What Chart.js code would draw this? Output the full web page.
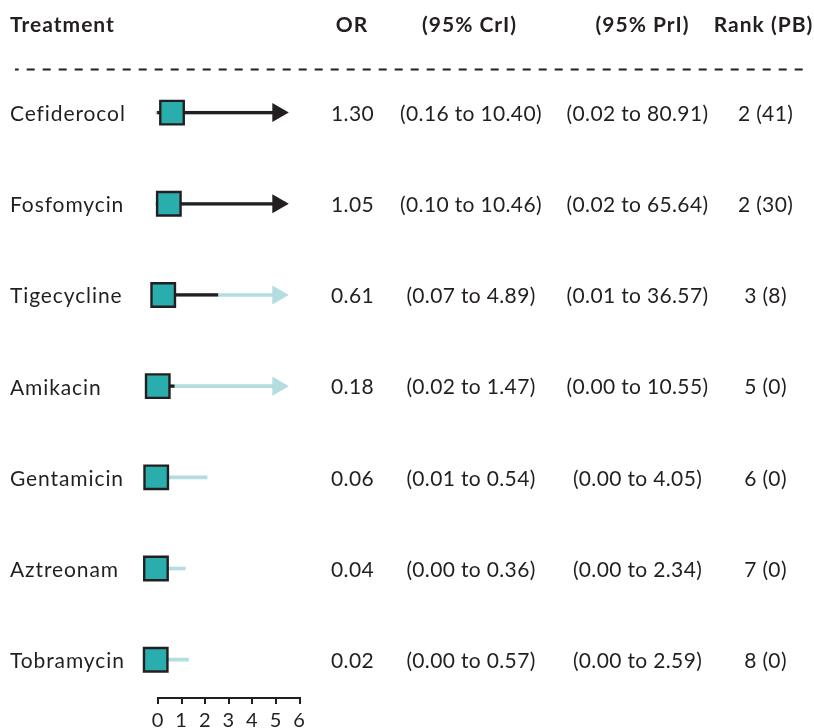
<!DOCTYPE html>
<html>
<head>
<meta charset="utf-8">
<script src="https://cdn.jsdelivr.net/npm/chart.js@4/dist/chart.umd.min.js"></script>
<style>
  html, body { margin: 0; padding: 0; background: #ffffff; }
  #wrap { position: relative; width: 814px; height: 728px; }
</style>
</head>
<body>
<div id="wrap"><canvas id="c" width="814" height="728"></canvas></div>
<script>
// ---- data ----
const treatments = ['Cefiderocol', 'Fosfomycin', 'Tigecycline', 'Amikacin', 'Gentamicin', 'Aztreonam', 'Tobramycin'];
const oddsRatio = [1.30, 1.05, 0.61, 0.18, 0.06, 0.04, 0.02];
const criLow  = [0.16, 0.10, 0.07, 0.02, 0.01, 0.00, 0.00];
const criHigh = [10.40, 10.46, 4.89, 1.47, 0.54, 0.36, 0.57];
const priLow  = [0.02, 0.02, 0.01, 0.00, 0.00, 0.00, 0.00];
const priHigh = [80.91, 65.64, 36.57, 10.55, 4.05, 2.34, 2.59];
const rankVal = [2, 2, 3, 5, 6, 7, 8];
const rankPB  = [41, 30, 8, 0, 0, 0, 0];
const axisTickLabels = ['0', '1', '2', '3', '4', '5', '6'];
const headers = ['Treatment', 'OR', '(95% CrI)', '(95% PrI)', 'Rank (PB)'];

// ---- styling / layout ----
const ARROW_AT = 9.6;           // intervals beyond this are truncated with an arrow
const X_MIN = 0.2, X_MAX = 11.3;
const LABEL_NUDGE = 0.018;      // small downward nudge of row labels (in row units)
const DARK = '#231F20';
const LIGHT = '#B3DDE0';
const TEAL = '#2AAEAD';
const FONT = 'Lato, "Open Sans", sans-serif';

const rowIdx = treatments.map((_, i) => i);
const priBars = rowIdx.map(i => ({ y: i, x: [priLow[i], Math.min(priHigh[i], ARROW_AT)] }));
const criBars = rowIdx.map(i => ({ y: i, x: [criLow[i], Math.min(criHigh[i], ARROW_AT)] }));
const darkArrows = rowIdx.filter(i => criHigh[i] > ARROW_AT).map(i => ({ x: ARROW_AT, y: i }));
const lightArrows = rowIdx.filter(i => criHigh[i] <= ARROW_AT && priHigh[i] > ARROW_AT).map(i => ({ x: ARROW_AT, y: i }));
const orPoints = rowIdx.map(i => ({ x: oddsRatio[i], y: i }));

const columnsPlugin = {
  id: 'columns',
  beforeDraw(chart) {
    chart.ctx.letterSpacing = '0.9px';
  },
  afterDraw(chart) {
    const ctx = chart.ctx;
    const ys = chart.scales.y;
    ctx.save();
    // headers
    ctx.fillStyle = DARK;
    ctx.textBaseline = 'middle';
    ctx.font = 'bold 21px ' + FONT;
    ctx.letterSpacing = '1px';
    const hy = 25;
    ctx.textAlign = 'left';
    ctx.fillText(headers[0], 10, hy);
    ctx.textAlign = 'center';
    ctx.fillText(headers[1], 352, hy);
    ctx.fillText(headers[2], 469.5, hy);
    ctx.fillText(headers[3], 642.5, hy);
    ctx.fillText(headers[4], 763.5, hy);
    // dashed separator
    ctx.strokeStyle = DARK;
    ctx.lineWidth = 2;
    ctx.setLineDash([8, 8]);
    ctx.lineDashOffset = 4.3;
    ctx.beginPath();
    ctx.moveTo(15, 69.5);
    ctx.lineTo(810, 69.5);
    ctx.stroke();
    ctx.setLineDash([]);
    // row values
    ctx.font = '21px ' + FONT;
    ctx.letterSpacing = '0.35px';
    rowIdx.forEach(i => {
      const y = ys.getPixelForValue(i) + 1.5;
      ctx.fillText(oddsRatio[i].toFixed(2), 352.5, y);
      ctx.fillText('(' + criLow[i].toFixed(2) + ' to ' + criHigh[i].toFixed(2) + ')', 471, y);
      ctx.fillText('(' + priLow[i].toFixed(2) + ' to ' + priHigh[i].toFixed(2) + ')', 637.5, y);
      ctx.fillText(rankVal[i] + ' (' + rankPB[i] + ')', 765.5, y);
    });
    ctx.restore();
  }
};

new Chart(document.getElementById('c'), {
  type: 'bar',
  data: {
    datasets: [
      { type: 'bar', data: priBars, backgroundColor: LIGHT, barThickness: 3, grouped: false, order: 4, clip: false },
      { type: 'bar', data: criBars, backgroundColor: DARK, barThickness: 2.6, grouped: false, order: 3, clip: false },
      { type: 'scatter', data: lightArrows, pointStyle: 'triangle', rotation: 90, pointRadius: 11,
        backgroundColor: LIGHT, borderColor: LIGHT, borderWidth: 0, order: 2, clip: false },
      { type: 'scatter', data: darkArrows, pointStyle: 'triangle', rotation: 90, pointRadius: 11,
        backgroundColor: DARK, borderColor: DARK, borderWidth: 0, order: 2, clip: false },
      { type: 'scatter', data: orPoints, pointStyle: 'rect', pointRadius: 16.6,
        backgroundColor: TEAL, borderColor: DARK, borderWidth: 2.4, order: 1, clip: false }
    ]
  },
  options: {
    indexAxis: 'y',
    responsive: false,
    animation: false,
    events: [],
    layout: { padding: { left: 10, top: 67, right: 514.5, bottom: 0 } },
    plugins: { legend: { display: false }, tooltip: { enabled: false } },
    scales: {
      x: {
        type: 'linear',
        position: 'bottom',
        offset: false,
        min: X_MIN, max: X_MAX,
        afterBuildTicks: s => {
          const n = axisTickLabels.length - 1;
          s.ticks = axisTickLabels.map((_, i) => ({ value: s.min + i * (s.max - s.min) / n }));
        },
        afterFit: s => { s.height = 30; },
        ticks: {
          callback: (v, i) => axisTickLabels[i],
          autoSkip: false, maxRotation: 0, minRotation: 0,
          color: DARK, font: { family: FONT, size: 20 }, padding: 5
        },
        grid: { drawOnChartArea: false, drawTicks: true, tickLength: 6, color: DARK, lineWidth: 2, offset: false },
        border: { display: true, color: DARK, width: 2 }
      },
      y: {
        type: 'linear',
        position: 'left',
        reverse: true,
        offset: false,
        min: -0.5, max: 6.42,
        afterBuildTicks: s => { s.ticks = treatments.map((_, i) => ({ value: i + LABEL_NUDGE })); },
        afterFit: s => { s.width = 148; },
        ticks: {
          callback: v => treatments[Math.round(v)],
          autoSkip: false, crossAlign: 'far', padding: 0,
          color: DARK, font: { family: FONT, size: 21 }
        },
        grid: { display: false, drawTicks: false, offset: false },
        border: { display: false }
      }
    }
  },
  plugins: [columnsPlugin]
});
</script>
</body>
</html>
